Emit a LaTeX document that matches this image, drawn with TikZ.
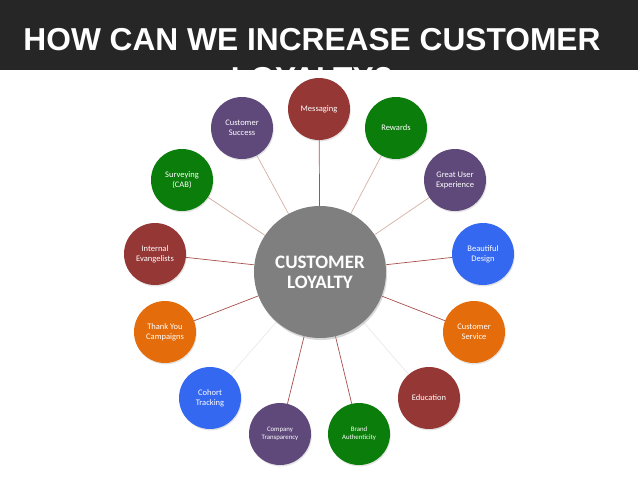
\documentclass[tikz,border=0pt]{standalone}
\usepackage{fontspec}
\setmainfont{Carlito}
\newfontfamily\titlefont{Liberation Sans}
\usetikzlibrary{shadows}
\pgfdeclarelayer{bg}
\pgfdeclarelayer{edges}
\pgfsetlayers{bg,edges,main}
\definecolor{band}{HTML}{262626}
\definecolor{cred}{HTML}{953735}
\definecolor{cpurple}{HTML}{5F497A}
\definecolor{cgreen}{HTML}{0A7D0A}
\definecolor{corange}{HTML}{E46C0A}
\definecolor{cblue}{HTML}{3468F0}
\definecolor{cgray}{HTML}{7F7F7F}
\definecolor{estrong}{HTML}{A8504C}
\definecolor{emed}{HTML}{D4B0A4}
\definecolor{efaint}{HTML}{EFE8E6}
\begin{document}
\begin{tikzpicture}[x=1pt,y=-1pt,
  sat/.style={circle, minimum size=62pt, inner sep=0pt, text=white, align=center,
    font=\fontsize{8.5}{10}\selectfont,
    drop shadow={opacity=0.22, shadow xshift=0.8pt, shadow yshift=-1.4pt}},
  small/.style={font=\fontsize{6.8}{8}\selectfont},
  hub/.style={circle, minimum size=132pt, inner sep=0pt, fill=cgray, text=white, align=center,
    font=\bfseries\fontsize{19}{20}\selectfont,
    drop shadow={opacity=0.3, shadow xshift=1pt, shadow yshift=-2pt}},
  strongedge/.style={draw=estrong, line width=0.7pt},
  mededge/.style={draw=emed, line width=0.7pt},
  faintedge/.style={draw=efaint, line width=0.7pt},
  titletext/.style={font=\titlefont\bfseries\fontsize{31.7}{38}\selectfont, text=white, anchor=base, inner sep=0pt}
]
\useasboundingbox (0,0) rectangle (638,479);
\begin{pgfonlayer}{bg}
  \fill[band] (0,0) rectangle (638,70);
  \node[titletext] (t1) at (312,50) {HOW CAN WE INCREASE CUSTOMER};
  \node[titletext] (t2) at (312,89.5) {LOYALTY?};
  \fill[white] (0,69.5) rectangle (638,479);
\end{pgfonlayer}

\node[hub] (c) at (320,272) {CUSTOMER\\LOYALTY};

\node[sat, fill=cred] (msg) at (319,109) {Messaging};
\node[sat, fill=cpurple] (cs) at (242,128) {Customer\\Success};
\node[sat, fill=cgreen] (rew) at (396,128) {Rewards};
\node[sat, fill=cgreen] (sur) at (182,180) {Surveying\\(CAB)};
\node[sat, fill=cpurple] (gux) at (455,180) {Great User\\Experience};
\node[sat, fill=cred] (ie) at (155,254) {Internal\\Evangelists};
\node[sat, fill=cblue] (bd) at (483,254) {Beautiful\\Design};
\node[sat, fill=corange] (ty) at (165,332) {Thank You\\Campaigns};
\node[sat, fill=corange] (csv) at (474,332) {Customer\\Service};
\node[sat, fill=cblue] (ct) at (210,398) {Cohort\\Tracking};
\node[sat, fill=cred] (edu) at (429,398) {Education};
\node[sat, small, fill=cpurple] (tr) at (280,434) {Company\\Transparency};
\node[sat, small, fill=cgreen] (ba) at (359,434) {Brand\\Authenticity};

\begin{pgfonlayer}{edges}
  \draw[strongedge] (c) -- (msg);
  \draw[mededge] (c) -- (cs);
  \draw[mededge] (c) -- (rew);
  \draw[mededge] (c) -- (sur);
  \draw[mededge] (c) -- (gux);
  \draw[strongedge] (c) -- (ie);
  \draw[strongedge] (c) -- (bd);
  \draw[strongedge] (c) -- (ty);
  \draw[strongedge] (c) -- (csv);
  \draw[faintedge] (c) -- (ct);
  \draw[faintedge] (c) -- (edu);
  \draw[strongedge] (c) -- (tr);
  \draw[strongedge] (c) -- (ba);
\end{pgfonlayer}
\end{tikzpicture}
\end{document}
